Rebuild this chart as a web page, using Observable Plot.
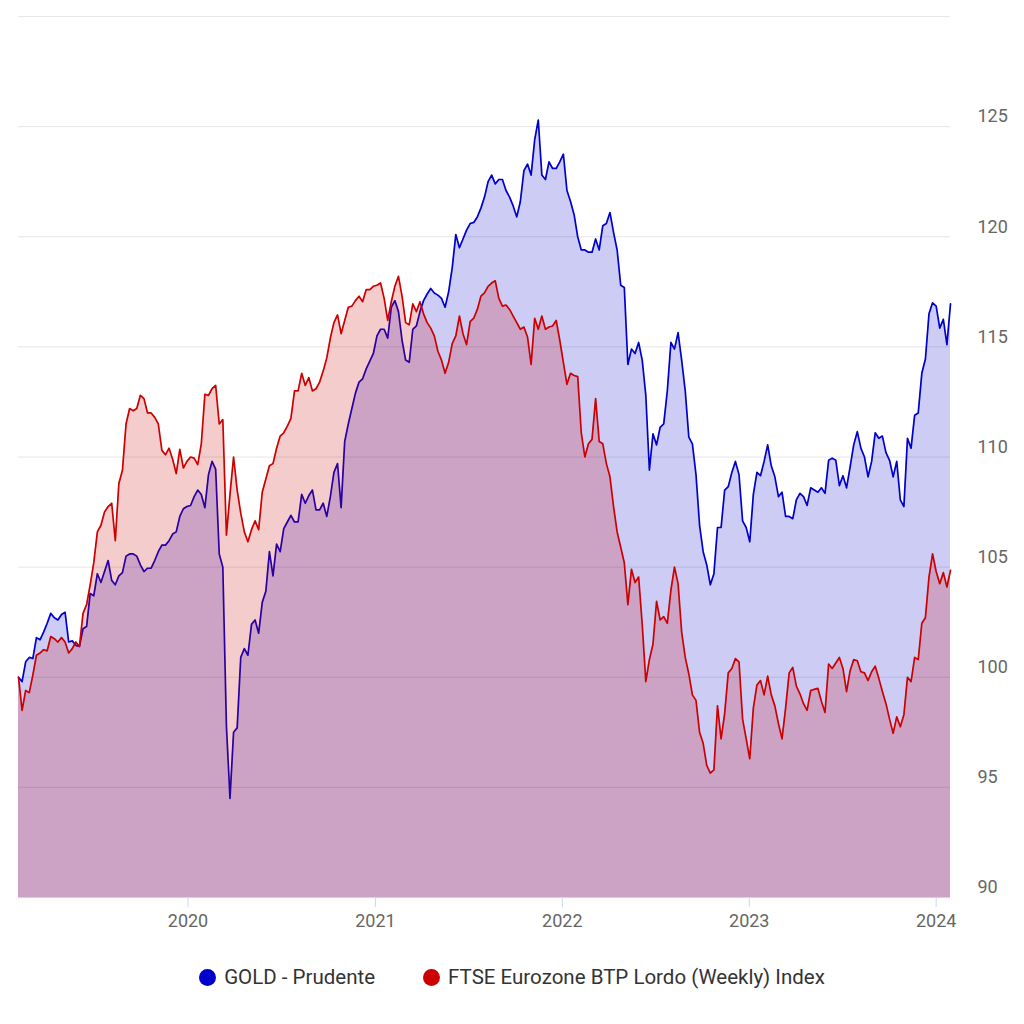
<!DOCTYPE html>
<html>
<head>
<meta charset="utf-8">
<script src="https://cdn.jsdelivr.net/npm/d3@7"></script>
<script src="https://cdn.jsdelivr.net/npm/@observablehq/plot@0.6"></script>
<style>
  body { margin: 0; background: #fff; font-family: Roboto, sans-serif; }
  #chart { width: 1024px; }
  #legend { display: flex; justify-content: center; align-items: center; height: 24px; margin-top: 20px; font-size: 20.5px; color: #333; }
  .item { display: flex; align-items: center; }
  .item + .item { margin-left: 48px; }
  .dot { width: 17px; height: 17px; border-radius: 50%; margin-right: 8px; }
</style>
</head>
<body>
<div id="chart"></div>
<div id="legend"></div>
<script>
// ---- data (weekly closes) ----
const startDate = "2019-02-04";
const seriesNames = ["GOLD - Prudente", "FTSE Eurozone BTP Lordo (Weekly) Index"];
const seriesColors = ["#0000cc", "#cc0000"];

const gold = [
  100.0, 99.8, 100.7, 100.9, 100.85, 101.8, 101.7, 102.05, 102.45, 102.9,
  102.7, 102.6, 102.85, 102.95, 101.6, 101.65, 101.45, 101.4, 102.2, 102.3,
  103.8, 103.7, 104.7, 104.3, 104.8, 105.3, 104.4, 104.2, 104.6, 104.75,
  105.5, 105.6, 105.6, 105.5, 105.1, 104.8, 104.95, 104.95, 105.3, 105.7,
  106.0, 106.0, 106.2, 106.5, 106.6, 107.3, 107.65, 107.75, 107.8, 108.2,
  108.5, 108.3, 107.7, 109.2, 109.8, 109.45, 105.6, 105.0, 97.8, 94.5,
  97.5, 97.7, 100.9, 101.3, 101.0, 102.4, 102.6, 102.0, 103.4, 103.9,
  105.7, 104.6, 106.05, 105.7, 106.75, 107.05, 107.35, 107.05, 107.05, 108.3,
  107.9, 108.25, 108.5, 107.6, 107.6, 107.9, 107.3, 108.2, 109.3, 109.7,
  107.7, 110.7, 111.5, 112.2, 112.9, 113.4, 113.55, 114.0, 114.35, 114.7,
  115.5, 115.8, 115.8, 115.4, 116.8, 117.1, 116.6, 115.3, 114.4, 114.3,
  115.8, 115.95, 116.6, 117.1, 117.4, 117.65, 117.45, 117.35, 117.2, 116.8,
  117.5, 118.6, 120.1, 119.5, 119.9, 120.3, 120.6, 120.65, 120.9, 121.3,
  121.8, 122.5, 122.8, 122.4, 122.6, 122.6, 122.1, 121.8, 121.4, 120.9,
  121.6, 123.0, 123.3, 122.8, 124.4, 125.3, 122.8, 122.6, 123.4, 123.1,
  123.1, 123.4, 123.75, 122.1, 121.6, 121.0, 120.0, 119.4, 119.4, 119.3,
  119.3, 119.9, 119.4, 120.5, 120.6, 121.1, 120.2, 119.4, 117.8, 117.7,
  114.2, 114.9, 114.7, 115.2, 114.4, 112.8, 109.4, 111.05, 110.55, 111.35,
  111.5, 113.0, 115.2, 114.9, 115.65, 114.4, 113.0, 110.9, 110.6, 109.2,
  106.9, 105.7, 105.1, 104.2, 104.7, 106.8, 106.8, 108.5, 108.65, 109.3,
  109.8, 109.2, 107.1, 106.8, 106.15, 108.3, 109.3, 109.15, 109.8, 110.55,
  109.6, 109.1, 108.2, 108.4, 107.3, 107.3, 107.2, 108.05, 108.35, 108.2,
  107.8, 108.6, 108.5, 108.4, 108.6, 108.35, 109.85, 109.95, 109.85, 108.7,
  109.15, 108.6, 109.55, 110.55, 111.15, 110.4, 110.0, 109.1, 109.8, 111.1,
  110.85, 110.95, 110.2, 109.85, 109.1, 109.8, 108.05, 107.75, 110.85, 110.4,
  111.9, 112.0, 113.8, 114.45, 116.5, 117.0, 116.85, 115.85, 116.25, 115.1, 116.95
];

const btp = [
  100.0, 98.5, 99.4, 99.3, 100.1, 101.0, 101.1, 101.25, 101.2, 101.85,
  101.75, 101.6, 101.8, 101.6, 101.1, 101.3, 101.6, 101.4, 102.9, 103.3,
  104.2, 105.2, 106.6, 106.9, 107.5, 107.75, 107.9, 106.2, 108.8, 109.4,
  111.5, 112.2, 112.1, 112.2, 112.8, 112.65, 112.0, 112.0, 111.8, 111.5,
  110.3, 110.1, 110.4, 109.9, 109.25, 110.35, 109.5, 109.8, 110.0, 109.95,
  109.65, 110.6, 112.85, 112.8, 113.1, 113.25, 111.5, 111.7, 106.45, 108.3,
  110.0, 108.5, 107.45, 106.6, 106.15, 106.7, 107.1, 106.7, 108.4, 109.0,
  109.6, 109.7, 110.4, 110.95, 111.1, 111.4, 111.75, 113.0, 113.0, 113.8,
  113.25, 113.6, 113.0, 113.1, 113.4, 113.9, 114.5, 115.4, 116.1, 116.45,
  115.6, 116.2, 116.8, 116.85, 117.1, 117.3, 117.05, 117.6, 117.6, 117.75,
  117.8, 117.9, 117.2, 116.2, 117.05, 117.75, 118.2, 117.3, 116.1, 116.0,
  116.95, 116.6, 117.05, 116.5, 116.1, 115.85, 115.5, 114.8, 114.4, 113.8,
  114.3, 115.15, 115.5, 116.4, 115.6, 115.1, 116.15, 116.3, 116.7, 117.3,
  117.45, 117.75, 117.9, 118.0, 117.2, 116.85, 116.9, 116.7, 116.4, 116.1,
  115.8, 115.9, 115.45, 114.2, 116.3, 115.8, 116.4, 115.8, 115.9, 115.95,
  116.2, 115.3, 114.3, 113.3, 113.8, 113.7, 113.65, 111.1, 110.0, 110.6,
  110.8, 112.65, 110.7, 110.6, 109.7, 109.1, 107.75, 106.6, 105.9, 105.2,
  103.3, 104.9, 104.3, 104.55, 102.4, 99.8, 100.8, 101.5, 103.45, 102.6,
  102.75, 102.45, 103.95, 105.0, 104.25, 102.05, 100.9, 100.15, 99.2, 98.95,
  97.5, 97.0, 96.0, 95.65, 95.8, 98.7, 97.2, 98.35, 100.2, 100.4,
  100.85, 100.7, 98.1, 97.2, 96.3, 98.6, 99.65, 99.85, 99.2, 100.05,
  99.2, 98.7, 97.9, 97.2, 98.6, 100.2, 100.45, 99.6, 99.25, 98.8,
  98.5, 99.4, 99.45, 99.5, 98.9, 98.4, 100.6, 100.4, 100.65, 100.9,
  100.4, 99.35, 100.3, 100.8, 100.75, 100.25, 100.2, 99.85, 100.25, 100.5,
  99.95, 99.35, 98.8, 98.1, 97.45, 98.2, 97.75, 98.3, 100.0, 99.8,
  100.9, 100.8, 102.45, 102.7, 104.55, 105.6, 104.8, 104.25, 104.75, 104.1, 104.85
];

const yearTicks = [2020, 2021, 2022, 2023, 2024];
const yLabelTicks = [90, 95, 100, 105, 110, 115, 120, 125];
const yGridTicks = [95, 100, 105, 110, 115, 120, 125, 130];
const yDomain = [90, 130];

// ---- build tables ----
const start = new Date(startDate + "T00:00:00Z");
const dates = gold.map((_, i) => d3.utcDay.offset(start, 7 * i));
const toRows = s => s.map((v, i) => ({date: dates[i], value: v}));
const goldRows = toRows(gold);
const btpRows = toRows(btp);
const yearDates = yearTicks.map(y => new Date(Date.UTC(y, 0, 1)));

const chart = Plot.plot({
  width: 1024,
  height: 945,
  marginLeft: 18,
  marginRight: 74,
  marginTop: 16,
  marginBottom: 48,
  style: {fontFamily: "Roboto, sans-serif", fontSize: "18px", background: "#fff"},
  x: {type: "utc", domain: [dates[0], dates[dates.length - 1]], label: null},
  y: {domain: yDomain, label: null},
  marks: [
    Plot.gridY(yGridTicks, {stroke: "#e6e6e6", strokeOpacity: 1, strokeWidth: 1}),
    Plot.areaY(goldRows, {x: "date", y1: () => yDomain[0], y2: "value", fill: seriesColors[0], fillOpacity: 0.2}),
    Plot.lineY(goldRows, {x: "date", y: "value", stroke: seriesColors[0], strokeWidth: 1.7}),
    Plot.areaY(btpRows, {x: "date", y1: () => yDomain[0], y2: "value", fill: seriesColors[1], fillOpacity: 0.2}),
    Plot.lineY(btpRows, {x: "date", y: "value", stroke: seriesColors[1], strokeWidth: 1.7}),
    Plot.ruleY([yDomain[0]], {stroke: "#ccd6eb", strokeWidth: 1}),
    Plot.axisX(yearDates, {tickSize: 10, tickPadding: 7, stroke: "#ccd6eb", fill: "#666", tickFormat: d3.utcFormat("%Y"), label: null}),
    Plot.axisY(yLabelTicks, {anchor: "right", tickSize: 0, tickPadding: 27, dy: -10, textAnchor: "start", fill: "#666", label: null})
  ]
});
document.getElementById("chart").appendChild(chart);

const legend = document.getElementById("legend");
seriesNames.forEach((name, i) => {
  const item = document.createElement("div");
  item.className = "item";
  const dot = document.createElement("span");
  dot.className = "dot";
  dot.style.background = seriesColors[i];
  const label = document.createElement("span");
  label.textContent = name;
  item.appendChild(dot);
  item.appendChild(label);
  legend.appendChild(item);
});
</script>
</body>
</html>
